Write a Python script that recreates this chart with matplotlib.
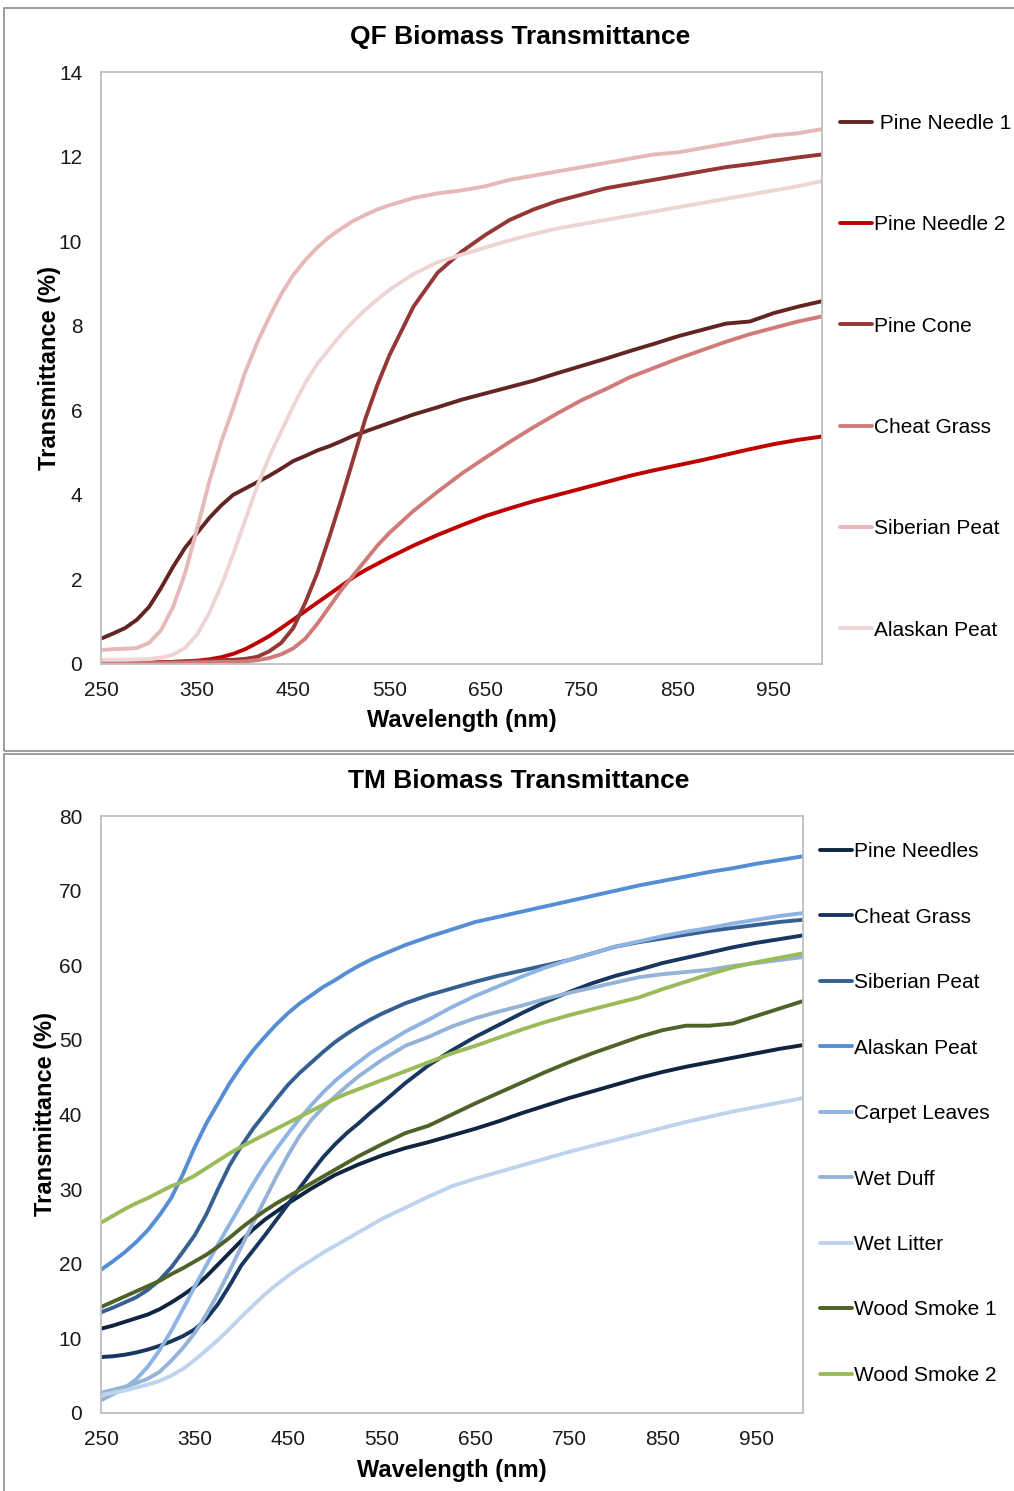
import matplotlib
matplotlib.use('Agg')
import matplotlib.pyplot as plt
from matplotlib.patches import Rectangle

plt.rcParams['font.family'] = ['Liberation Sans', 'DejaVu Sans']

# wavelength grid shared by every curve (nm): finer where the curves bend
wavelength = [250, 262.5, 275, 287.5, 300, 312.5, 325, 337.5, 350, 362.5, 375, 387.5, 400, 412.5,
              425, 437.5, 450, 462.5, 475, 487.5, 500, 512.5, 525, 537.5, 550,
              575, 600, 625, 650, 675, 700, 725, 750, 775, 800, 825, 850, 875, 900, 925, 950, 975, 1000]

# ---- QF chart (transmittance %) ----
qf_labels = [' Pine Needle 1', 'Pine Needle 2', 'Pine Cone', 'Cheat Grass', 'Siberian Peat', 'Alaskan Peat']
qf_colors = ['#632523', '#C00000', '#953735', '#D07B7A', '#E6B9B8', '#EDD5D4']

qf_pine_needle_1 = [0.6, 0.72, 0.85, 1.05, 1.35, 1.8, 2.3, 2.75, 3.1, 3.45, 3.75, 4.0, 4.15, 4.3,
                    4.45, 4.62, 4.8, 4.92, 5.05, 5.15, 5.27, 5.4, 5.5, 5.6, 5.7,
                    5.9, 6.07, 6.25, 6.4, 6.55, 6.7, 6.88, 7.05, 7.22, 7.4, 7.57, 7.75, 7.9, 8.05, 8.1, 8.3, 8.45, 8.58]
qf_pine_needle_2 = [0.02, 0.02, 0.02, 0.03, 0.03, 0.04, 0.05, 0.06, 0.08, 0.11, 0.16, 0.24, 0.35, 0.5,
                    0.66, 0.85, 1.05, 1.25, 1.45, 1.65, 1.85, 2.05, 2.22, 2.37, 2.52,
                    2.8, 3.05, 3.28, 3.5, 3.68, 3.85, 4.0, 4.15, 4.3, 4.45, 4.58, 4.7, 4.82, 4.95, 5.08, 5.2, 5.3, 5.38]
qf_pine_cone = [0.02, 0.02, 0.02, 0.02, 0.03, 0.04, 0.05, 0.06, 0.07, 0.08, 0.09, 0.1, 0.12, 0.17,
                0.3, 0.5, 0.85, 1.45, 2.15, 3.0, 3.9, 4.85, 5.8, 6.6, 7.3,
                8.45, 9.25, 9.75, 10.15, 10.5, 10.75, 10.95, 11.1, 11.25, 11.35, 11.45, 11.55, 11.65, 11.75, 11.82, 11.9, 11.98, 12.05]
qf_cheat_grass = [0.02, 0.02, 0.02, 0.02, 0.02, 0.02, 0.03, 0.03, 0.04, 0.04, 0.05, 0.05, 0.06, 0.09,
                  0.14, 0.23, 0.37, 0.6, 0.95, 1.35, 1.75, 2.1, 2.45, 2.8, 3.1,
                  3.62, 4.07, 4.5, 4.88, 5.25, 5.6, 5.93, 6.24, 6.5, 6.78, 7.0, 7.22, 7.42, 7.62, 7.8, 7.95, 8.1, 8.22]
qf_siberian_peat = [0.33, 0.35, 0.36, 0.38, 0.5, 0.8, 1.35, 2.15, 3.2, 4.3, 5.25, 6.05, 6.9, 7.6,
                    8.2, 8.75, 9.2, 9.55, 9.85, 10.1, 10.3, 10.48, 10.62, 10.75, 10.85,
                    11.02, 11.13, 11.2, 11.3, 11.45, 11.55, 11.65, 11.75, 11.85, 11.95, 12.05, 12.1, 12.2, 12.3, 12.4, 12.5, 12.55, 12.65]
qf_alaskan_peat = [0.1, 0.1, 0.1, 0.11, 0.12, 0.15, 0.22, 0.38, 0.7, 1.2, 1.85, 2.6, 3.4, 4.2,
                   4.9, 5.5, 6.1, 6.65, 7.1, 7.45, 7.8, 8.1, 8.38, 8.62, 8.85,
                   9.22, 9.5, 9.68, 9.85, 10.02, 10.17, 10.3, 10.4, 10.5, 10.6, 10.7, 10.8, 10.9, 11.0, 11.1, 11.2, 11.3, 11.42]
qf_series = [qf_pine_needle_1, qf_pine_needle_2, qf_pine_cone, qf_cheat_grass, qf_siberian_peat, qf_alaskan_peat]

# ---- TM chart (transmittance %) ----
tm_labels = ['Pine Needles', 'Cheat Grass', 'Siberian Peat', 'Alaskan Peat', 'Carpet Leaves',
             'Wet Duff', 'Wet Litter', 'Wood Smoke 1', 'Wood Smoke 2']
tm_colors = ['#0F243E', '#17375E', '#376092', '#558ED5', '#8EB4E3', '#95B3D7', '#BDD3EE', '#4F6228', '#9BBB59']

tm_pine_needles = [11.3, 11.7, 12.2, 12.7, 13.2, 13.9, 14.8, 15.8, 16.9, 18.3, 19.9, 21.5, 23.1, 24.6,
                   25.9, 27.0, 28.1, 29.1, 30.1, 31.0, 31.9, 32.6, 33.3, 33.9, 34.5,
                   35.5, 36.3, 37.2, 38.1, 39.1, 40.2, 41.2, 42.2, 43.1, 44.0, 44.9, 45.7, 46.4, 47.0, 47.6, 48.2, 48.8, 49.3]
tm_cheat_grass = [7.5, 7.6, 7.8, 8.1, 8.5, 9.0, 9.6, 10.3, 11.2, 12.6, 14.6, 17.1, 19.8, 21.8,
                  23.8, 25.9, 28.0, 30.2, 32.3, 34.3, 36.0, 37.5, 38.8, 40.2, 41.5,
                  44.2, 46.6, 48.6, 50.4, 52.0, 53.6, 55.1, 56.4, 57.6, 58.6, 59.4, 60.3, 61.0, 61.7, 62.4, 63.0, 63.5, 64.0]
tm_siberian_peat = [13.5, 14.1, 14.8, 15.5, 16.5, 17.8, 19.5, 21.6, 23.8, 26.6, 30.0, 33.2, 35.8, 38.1,
                    40.1, 42.1, 44.0, 45.6, 47.0, 48.4, 49.7, 50.8, 51.8, 52.7, 53.5,
                    54.9, 56.0, 56.9, 57.8, 58.6, 59.3, 60.0, 60.7, 61.6, 62.5, 63.1, 63.6, 64.1, 64.6, 65.0, 65.4, 65.8, 66.1]
tm_alaskan_peat = [19.2, 20.3, 21.5, 22.9, 24.5, 26.5, 28.8, 32.0, 35.6, 38.8, 41.5, 44.2, 46.5, 48.6,
                   50.4, 52.1, 53.6, 54.9, 56.0, 57.1, 58.0, 59.0, 59.9, 60.7, 61.4,
                   62.7, 63.8, 64.8, 65.8, 66.5, 67.2, 67.9, 68.6, 69.3, 70.0, 70.7, 71.3, 71.9, 72.5, 73.0, 73.6, 74.1, 74.6]
tm_carpet_leaves = [1.7, 2.5, 3.3, 4.5, 6.2, 8.4, 11.0, 13.9, 16.9, 19.8, 22.6, 25.3, 28.0, 30.7,
                    33.2, 35.4, 37.5, 39.5, 41.3, 43.0, 44.5, 45.8, 47.0, 48.2, 49.2,
                    51.1, 52.7, 54.4, 55.9, 57.2, 58.5, 59.7, 60.7, 61.6, 62.5, 63.2, 63.9, 64.5, 65.0, 65.6, 66.1, 66.6, 67.0]
tm_wet_duff = [2.7, 3.1, 3.5, 4.0, 4.6, 5.5, 7.0, 8.7, 10.7, 13.2, 16.0, 19.1, 22.3, 25.5,
               28.6, 31.7, 34.6, 37.2, 39.3, 41.0, 42.4, 43.8, 45.1, 46.2, 47.3,
               49.2, 50.4, 51.8, 52.9, 53.8, 54.6, 55.5, 56.3, 57.0, 57.7, 58.4, 58.8, 59.1, 59.4, 59.9, 60.3, 60.7, 61.1]
tm_wet_litter = [2.4, 2.7, 3.0, 3.4, 3.8, 4.3, 5.0, 5.9, 7.1, 8.4, 9.8, 11.3, 12.9, 14.4,
                 15.9, 17.2, 18.4, 19.5, 20.5, 21.5, 22.4, 23.3, 24.2, 25.1, 26.0,
                 27.5, 29.0, 30.4, 31.4, 32.3, 33.2, 34.1, 35.0, 35.8, 36.6, 37.4, 38.2, 39.0, 39.7, 40.4, 41.0, 41.6, 42.2]
tm_wood_smoke_1 = [14.2, 14.9, 15.6, 16.3, 17.0, 17.7, 18.6, 19.4, 20.3, 21.2, 22.3, 23.5, 24.8, 26.0,
                   27.1, 28.1, 29.0, 29.9, 30.8, 31.7, 32.6, 33.5, 34.4, 35.2, 36.0,
                   37.5, 38.5, 40.0, 41.5, 42.9, 44.3, 45.7, 47.0, 48.2, 49.3, 50.4, 51.3, 51.9, 51.9, 52.2, 53.2, 54.2, 55.2]
tm_wood_smoke_2 = [25.5, 26.4, 27.3, 28.1, 28.8, 29.6, 30.4, 31.0, 31.8, 32.8, 33.8, 34.8, 35.7, 36.5,
                   37.3, 38.1, 38.9, 39.7, 40.5, 41.3, 42.1, 42.8, 43.4, 44.0, 44.6,
                   45.8, 47.0, 48.2, 49.2, 50.3, 51.4, 52.4, 53.3, 54.1, 54.9, 55.7, 56.8, 57.8, 58.8, 59.7, 60.4, 61.0, 61.6]
tm_series = [tm_pine_needles, tm_cheat_grass, tm_siberian_peat, tm_alaskan_peat, tm_carpet_leaves,
             tm_wet_duff, tm_wet_litter, tm_wood_smoke_1, tm_wood_smoke_2]

W, H = 1014, 1491
fig = plt.figure(figsize=(W / 100, H / 100), dpi=100)

# panel frames (two pasted chart boxes)
fig.add_artist(Rectangle((4 / W, 1 - 751 / H), 1.2, (751 - 8) / H, transform=fig.transFigure,
                         fill=False, edgecolor='#8C8C8C', lw=1.2))
fig.add_artist(Rectangle((4 / W, -0.01), 1.2, 1 - 754 / H + 0.01, transform=fig.transFigure,
                         fill=False, edgecolor='#8C8C8C', lw=1.2))


def style_axes(ax):
    for sp in ax.spines.values():
        sp.set_color('#BFBFBF')
        sp.set_linewidth(1.3)
    ax.tick_params(length=0, labelsize=15, colors='#1a1a1a')
    ax.tick_params(axis='x', pad=12)
    ax.tick_params(axis='y', pad=13.5)
    ax.set_xlim(250, 1000)
    ax.set_xticks(range(250, 1000, 100))
    ax.set_xlabel('Wavelength (nm)', fontsize=17, fontweight='bold')
    ax.set_ylabel('Transmittance (%)', fontsize=17, fontweight='bold')


# top chart
ax1 = fig.add_axes([101 / W, 1 - 664 / H, (822 - 101) / W, (664 - 72) / H])
for vals, lab, col in zip(qf_series, qf_labels, qf_colors):
    ax1.plot(wavelength, vals, color=col, lw=2.8, label=lab, solid_capstyle='round')
ax1.set_ylim(0, 14)
ax1.set_yticks(range(0, 15, 2))
style_axes(ax1)
ax1.xaxis.set_label_coords(0.5, -0.076)
ax1.yaxis.set_label_coords(-0.055, 0.5)
ax1.legend(loc='upper left', bbox_to_anchor=(1.0134, 0.943), frameon=False, fontsize=15,
           handlelength=1.55, handletextpad=0.1, labelspacing=3.95, borderaxespad=0)
fig.text(520 / W, 1 - 37 / H, 'QF Biomass Transmittance', ha='center', va='center',
         fontsize=19, fontweight='bold')

# bottom chart
ax2 = fig.add_axes([101 / W, 1 - 1413 / H, (803 - 101) / W, (1413 - 816) / H])
for vals, lab, col in zip(tm_series, tm_labels, tm_colors):
    ax2.plot(wavelength, vals, color=col, lw=2.8, label=lab, solid_capstyle='round')
ax2.set_ylim(0, 80)
ax2.set_yticks(range(0, 81, 10))
style_axes(ax2)
ax2.xaxis.set_label_coords(0.5, -0.077)
ax2.yaxis.set_label_coords(-0.062, 0.5)
ax2.legend(loc='upper left', bbox_to_anchor=(1.0124, 0.97), frameon=False, fontsize=15,
           handlelength=1.55, handletextpad=0.1, labelspacing=2.23, borderaxespad=0)
fig.text(519 / W, 1 - 781 / H, 'TM Biomass Transmittance', ha='center', va='center',
         fontsize=19, fontweight='bold')

fig.savefig('out.png', dpi=100)
